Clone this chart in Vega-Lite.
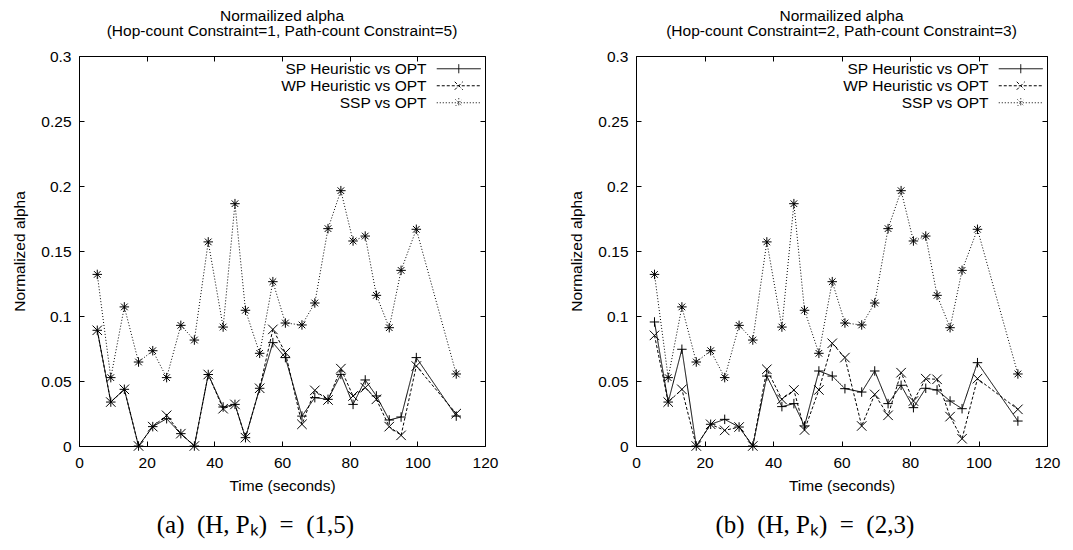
{
"$schema": "https://vega.github.io/schema/vega-lite/v6.json",
"background": "white",
"padding": {"left": 12, "top": 8, "right": 5, "bottom": 5},
"config": {
  "font": "Liberation Sans",
  "view": {"stroke": "black", "strokeWidth": 1},
  "axis": {"domain": false, "grid": false, "tickColor": "black", "tickWidth": 1, "tickSize": -5, "labelFont": "Liberation Sans", "labelFontSize": 15.5, "labelColor": "black", "labelFlush": false, "labelOverlap": false, "titleFont": "Liberation Sans", "titleFontSize": 15.5, "titleFontWeight": "normal", "titleColor": "black"},
  "title": {"font": "Liberation Sans", "fontSize": 15.5, "fontWeight": "normal", "color": "black", "lineHeight": 15, "offset": 10, "anchor": "middle"},
  "legend": {
    "orient": "none", "legendY": 5, "padding": 0, "title": null,
    "labelFont": "Liberation Sans", "labelFontSize": 15.5, "labelColor": "black", "labelAlign": "right", "labelOffset": -40, "labelLimit": 0,
    "symbolSize": 100, "symbolStrokeWidth": 1, "symbolStrokeColor": "black", "rowPadding": 0
  }
},
"datasets": {
  "a": [
    {"t":5.4,"v":0.089,"s":"SP Heuristic vs OPT"},{"t":9.4,"v":0.0338,"s":"SP Heuristic vs OPT"},{"t":13.4,"v":0.0436,"s":"SP Heuristic vs OPT"},{"t":17.6,"v":0,"s":"SP Heuristic vs OPT"},{"t":21.8,"v":0.0149,"s":"SP Heuristic vs OPT"},{"t":25.9,"v":0.021,"s":"SP Heuristic vs OPT"},{"t":30.1,"v":0.0095,"s":"SP Heuristic vs OPT"},{"t":34.1,"v":0,"s":"SP Heuristic vs OPT"},{"t":38.2,"v":0.055,"s":"SP Heuristic vs OPT"},{"t":42.6,"v":0.030,"s":"SP Heuristic vs OPT"},{"t":46.1,"v":0.032,"s":"SP Heuristic vs OPT"},{"t":49.2,"v":0.0064,"s":"SP Heuristic vs OPT"},{"t":53.4,"v":0.0444,"s":"SP Heuristic vs OPT"},{"t":57.3,"v":0.0795,"s":"SP Heuristic vs OPT"},{"t":61.0,"v":0.068,"s":"SP Heuristic vs OPT"},{"t":65.9,"v":0.023,"s":"SP Heuristic vs OPT"},{"t":69.7,"v":0.0372,"s":"SP Heuristic vs OPT"},{"t":73.6,"v":0.0359,"s":"SP Heuristic vs OPT"},{"t":77.4,"v":0.0551,"s":"SP Heuristic vs OPT"},{"t":81.0,"v":0.032,"s":"SP Heuristic vs OPT"},{"t":84.6,"v":0.0508,"s":"SP Heuristic vs OPT"},{"t":87.9,"v":0.0385,"s":"SP Heuristic vs OPT"},{"t":91.7,"v":0.020,"s":"SP Heuristic vs OPT"},{"t":95.2,"v":0.0223,"s":"SP Heuristic vs OPT"},{"t":99.7,"v":0.068,"s":"SP Heuristic vs OPT"},{"t":111.5,"v":0.023,"s":"SP Heuristic vs OPT"},
    {"t":5.4,"v":0.089,"s":"WP Heuristic vs OPT"},{"t":9.4,"v":0.0338,"s":"WP Heuristic vs OPT"},{"t":13.4,"v":0.0436,"s":"WP Heuristic vs OPT"},{"t":17.6,"v":0,"s":"WP Heuristic vs OPT"},{"t":21.8,"v":0.0149,"s":"WP Heuristic vs OPT"},{"t":25.9,"v":0.0236,"s":"WP Heuristic vs OPT"},{"t":30.1,"v":0.0095,"s":"WP Heuristic vs OPT"},{"t":34.1,"v":0,"s":"WP Heuristic vs OPT"},{"t":38.2,"v":0.055,"s":"WP Heuristic vs OPT"},{"t":42.6,"v":0.0287,"s":"WP Heuristic vs OPT"},{"t":46.1,"v":0.032,"s":"WP Heuristic vs OPT"},{"t":49.2,"v":0.0064,"s":"WP Heuristic vs OPT"},{"t":53.4,"v":0.0444,"s":"WP Heuristic vs OPT"},{"t":57.3,"v":0.0897,"s":"WP Heuristic vs OPT"},{"t":61.0,"v":0.0718,"s":"WP Heuristic vs OPT"},{"t":65.9,"v":0.0167,"s":"WP Heuristic vs OPT"},{"t":69.7,"v":0.0428,"s":"WP Heuristic vs OPT"},{"t":73.6,"v":0.0354,"s":"WP Heuristic vs OPT"},{"t":77.4,"v":0.0595,"s":"WP Heuristic vs OPT"},{"t":81.0,"v":0.0385,"s":"WP Heuristic vs OPT"},{"t":84.6,"v":0.0449,"s":"WP Heuristic vs OPT"},{"t":87.9,"v":0.0359,"s":"WP Heuristic vs OPT"},{"t":91.7,"v":0.0149,"s":"WP Heuristic vs OPT"},{"t":95.2,"v":0.0082,"s":"WP Heuristic vs OPT"},{"t":99.7,"v":0.0615,"s":"WP Heuristic vs OPT"},{"t":111.5,"v":0.0249,"s":"WP Heuristic vs OPT"},
    {"t":5.4,"v":0.132,"s":"SSP vs OPT"},{"t":9.4,"v":0.0526,"s":"SSP vs OPT"},{"t":13.4,"v":0.107,"s":"SSP vs OPT"},{"t":17.6,"v":0.0646,"s":"SSP vs OPT"},{"t":21.8,"v":0.0733,"s":"SSP vs OPT"},{"t":25.9,"v":0.0526,"s":"SSP vs OPT"},{"t":30.1,"v":0.0928,"s":"SSP vs OPT"},{"t":34.1,"v":0.0815,"s":"SSP vs OPT"},{"t":38.2,"v":0.157,"s":"SSP vs OPT"},{"t":42.6,"v":0.0915,"s":"SSP vs OPT"},{"t":46.1,"v":0.1864,"s":"SSP vs OPT"},{"t":49.2,"v":0.1044,"s":"SSP vs OPT"},{"t":53.4,"v":0.0713,"s":"SSP vs OPT"},{"t":57.3,"v":0.1264,"s":"SSP vs OPT"},{"t":61.0,"v":0.0946,"s":"SSP vs OPT"},{"t":65.9,"v":0.0931,"s":"SSP vs OPT"},{"t":69.7,"v":0.110,"s":"SSP vs OPT"},{"t":73.6,"v":0.1672,"s":"SSP vs OPT"},{"t":77.4,"v":0.1964,"s":"SSP vs OPT"},{"t":81.0,"v":0.1577,"s":"SSP vs OPT"},{"t":84.6,"v":0.1615,"s":"SSP vs OPT"},{"t":87.9,"v":0.1159,"s":"SSP vs OPT"},{"t":91.7,"v":0.091,"s":"SSP vs OPT"},{"t":95.2,"v":0.1351,"s":"SSP vs OPT"},{"t":99.7,"v":0.1667,"s":"SSP vs OPT"},{"t":111.5,"v":0.0554,"s":"SSP vs OPT"}
  ],
  "b": [
    {"t":5.4,"v":0.0954,"s":"SP Heuristic vs OPT"},{"t":9.4,"v":0.0338,"s":"SP Heuristic vs OPT"},{"t":13.4,"v":0.0744,"s":"SP Heuristic vs OPT"},{"t":17.6,"v":0,"s":"SP Heuristic vs OPT"},{"t":21.8,"v":0.0167,"s":"SP Heuristic vs OPT"},{"t":25.9,"v":0.0205,"s":"SP Heuristic vs OPT"},{"t":30.1,"v":0.0146,"s":"SP Heuristic vs OPT"},{"t":34.1,"v":0,"s":"SP Heuristic vs OPT"},{"t":38.2,"v":0.0538,"s":"SP Heuristic vs OPT"},{"t":42.6,"v":0.0303,"s":"SP Heuristic vs OPT"},{"t":46.1,"v":0.0326,"s":"SP Heuristic vs OPT"},{"t":49.2,"v":0.0154,"s":"SP Heuristic vs OPT"},{"t":53.4,"v":0.0577,"s":"SP Heuristic vs OPT"},{"t":57.3,"v":0.0538,"s":"SP Heuristic vs OPT"},{"t":61.0,"v":0.0441,"s":"SP Heuristic vs OPT"},{"t":65.9,"v":0.0415,"s":"SP Heuristic vs OPT"},{"t":69.7,"v":0.0577,"s":"SP Heuristic vs OPT"},{"t":73.6,"v":0.0326,"s":"SP Heuristic vs OPT"},{"t":77.4,"v":0.0467,"s":"SP Heuristic vs OPT"},{"t":81.0,"v":0.0295,"s":"SP Heuristic vs OPT"},{"t":84.6,"v":0.0444,"s":"SP Heuristic vs OPT"},{"t":87.9,"v":0.0431,"s":"SP Heuristic vs OPT"},{"t":91.7,"v":0.0346,"s":"SP Heuristic vs OPT"},{"t":95.2,"v":0.0287,"s":"SP Heuristic vs OPT"},{"t":99.7,"v":0.0641,"s":"SP Heuristic vs OPT"},{"t":111.5,"v":0.0192,"s":"SP Heuristic vs OPT"},
    {"t":5.4,"v":0.0851,"s":"WP Heuristic vs OPT"},{"t":9.4,"v":0.0338,"s":"WP Heuristic vs OPT"},{"t":13.4,"v":0.0436,"s":"WP Heuristic vs OPT"},{"t":17.6,"v":0,"s":"WP Heuristic vs OPT"},{"t":21.8,"v":0.0167,"s":"WP Heuristic vs OPT"},{"t":25.9,"v":0.012,"s":"WP Heuristic vs OPT"},{"t":30.1,"v":0.0146,"s":"WP Heuristic vs OPT"},{"t":34.1,"v":0,"s":"WP Heuristic vs OPT"},{"t":38.2,"v":0.059,"s":"WP Heuristic vs OPT"},{"t":42.6,"v":0.0359,"s":"WP Heuristic vs OPT"},{"t":46.1,"v":0.0431,"s":"WP Heuristic vs OPT"},{"t":49.2,"v":0.0123,"s":"WP Heuristic vs OPT"},{"t":53.4,"v":0.0431,"s":"WP Heuristic vs OPT"},{"t":57.3,"v":0.079,"s":"WP Heuristic vs OPT"},{"t":61.0,"v":0.068,"s":"WP Heuristic vs OPT"},{"t":65.9,"v":0.0154,"s":"WP Heuristic vs OPT"},{"t":69.7,"v":0.0397,"s":"WP Heuristic vs OPT"},{"t":73.6,"v":0.0236,"s":"WP Heuristic vs OPT"},{"t":77.4,"v":0.0564,"s":"WP Heuristic vs OPT"},{"t":81.0,"v":0.0346,"s":"WP Heuristic vs OPT"},{"t":84.6,"v":0.0518,"s":"WP Heuristic vs OPT"},{"t":87.9,"v":0.0513,"s":"WP Heuristic vs OPT"},{"t":91.7,"v":0.0226,"s":"WP Heuristic vs OPT"},{"t":95.2,"v":0.0056,"s":"WP Heuristic vs OPT"},{"t":99.7,"v":0.0518,"s":"WP Heuristic vs OPT"},{"t":111.5,"v":0.0282,"s":"WP Heuristic vs OPT"},
    {"t":5.4,"v":0.132,"s":"SSP vs OPT"},{"t":9.4,"v":0.0526,"s":"SSP vs OPT"},{"t":13.4,"v":0.107,"s":"SSP vs OPT"},{"t":17.6,"v":0.0646,"s":"SSP vs OPT"},{"t":21.8,"v":0.0733,"s":"SSP vs OPT"},{"t":25.9,"v":0.0526,"s":"SSP vs OPT"},{"t":30.1,"v":0.0928,"s":"SSP vs OPT"},{"t":34.1,"v":0.0815,"s":"SSP vs OPT"},{"t":38.2,"v":0.157,"s":"SSP vs OPT"},{"t":42.6,"v":0.0915,"s":"SSP vs OPT"},{"t":46.1,"v":0.1864,"s":"SSP vs OPT"},{"t":49.2,"v":0.1044,"s":"SSP vs OPT"},{"t":53.4,"v":0.0713,"s":"SSP vs OPT"},{"t":57.3,"v":0.1264,"s":"SSP vs OPT"},{"t":61.0,"v":0.0946,"s":"SSP vs OPT"},{"t":65.9,"v":0.0931,"s":"SSP vs OPT"},{"t":69.7,"v":0.110,"s":"SSP vs OPT"},{"t":73.6,"v":0.1672,"s":"SSP vs OPT"},{"t":77.4,"v":0.1964,"s":"SSP vs OPT"},{"t":81.0,"v":0.1577,"s":"SSP vs OPT"},{"t":84.6,"v":0.1615,"s":"SSP vs OPT"},{"t":87.9,"v":0.1159,"s":"SSP vs OPT"},{"t":91.7,"v":0.091,"s":"SSP vs OPT"},{"t":95.2,"v":0.1351,"s":"SSP vs OPT"},{"t":99.7,"v":0.1667,"s":"SSP vs OPT"},{"t":111.5,"v":0.0554,"s":"SSP vs OPT"}
  ]
},
"spacing": 70,
"resolve": {"scale": {"strokeDash": "independent"}, "legend": {"strokeDash": "independent"}},
"hconcat": [
  {
    "title": {"text": "(a)\u2002(H, Pₖ)\u2002=\u2002(1,5)", "orient": "bottom", "font": "Liberation Serif", "fontSize": 25, "offset": 18, "frame": "bounds"},
    "resolve": {"scale": {"strokeDash": "independent"}, "legend": {"strokeDash": "independent"}},
    "vconcat": [{
      "title": {"text": ["Normailized alpha", "(Hop-count Constraint=1, Path-count Constraint=5)"], "frame": "group"},
      "width": 406, "height": 390,
      "data": {"name": "a"},
      "layer": [
        {"mark": {"type": "line", "strokeWidth": 1, "color": "black"},
         "encoding": {
           "x": {"field": "t", "type": "quantitative", "scale": {"domain": [0, 120], "nice": false}, "axis": {"orient": "bottom", "values": [0,20,40,60,80,100,120], "format": "d", "title": "Time (seconds)", "labelPadding": 14, "titlePadding": 8}},
           "y": {"field": "v", "type": "quantitative", "scale": {"domain": [0, 0.3], "nice": false}, "axis": {"orient": "left", "values": [0,0.05,0.1,0.15,0.2,0.25,0.3], "format": "~g", "title": "Normalized alpha", "labelPadding": 13, "titlePadding": 13}},
           "strokeDash": {"field": "s", "type": "nominal", "scale": {"domain": ["SP Heuristic vs OPT", "WP Heuristic vs OPT", "SSP vs OPT"], "range": [[1,0],[3,2],[1,2]]},
             "legend": {"legendX": 372, "legendY": 5, "encode": {"symbols": {"update": {"shape": {"signal": "datum.value === 'SP Heuristic vs OPT' ? 'M-4.4,0H4.4M0,-0.9V0.9' : datum.value === 'WP Heuristic vs OPT' ? 'M-4.4,0H4.4M-0.8,-0.8L0.8,0.8M-0.8,0.8L0.8,-0.8' : 'M-4.4,0H4.4M0,-0.9V0.9M-0.65,-0.65L0.65,0.65M-0.65,0.65L0.65,-0.65'"}, "stroke": {"value": "black"}, "fill": {"value": "transparent"}}}}}}
         }},
        {"transform": [{"filter": "datum.s === 'SP Heuristic vs OPT'"}],
         "mark": {"type": "point", "shape": "M-1,0H1M0,-1V1", "size": 90, "strokeWidth": 1, "color": "black", "filled": false, "opacity": 1},
         "encoding": {
           "x": {"field": "t", "type": "quantitative", "axis": {"orient": "top", "values": [0,20,40,60,80,100,120], "labels": false, "title": null}},
           "y": {"field": "v", "type": "quantitative", "axis": {"orient": "right", "values": [0,0.05,0.1,0.15,0.2,0.25,0.3], "labels": false, "title": null}}
         }},
        {"transform": [{"filter": "datum.s === 'WP Heuristic vs OPT'"}],
         "mark": {"type": "point", "shape": "M-1,-1L1,1M-1,1L1,-1", "size": 90, "strokeWidth": 1, "color": "black", "filled": false, "opacity": 1},
         "encoding": {
           "x": {"field": "t", "type": "quantitative", "axis": null},
           "y": {"field": "v", "type": "quantitative", "axis": null}
         }},
        {"transform": [{"filter": "datum.s === 'SSP vs OPT'"}],
         "mark": {"type": "point", "shape": "M-1,0H1M0,-1V1M-0.7,-0.7L0.7,0.7M-0.7,0.7L0.7,-0.7", "size": 90, "strokeWidth": 1, "color": "black", "filled": false, "opacity": 1},
         "encoding": {
           "x": {"field": "t", "type": "quantitative", "axis": null},
           "y": {"field": "v", "type": "quantitative", "axis": null}
         }}
      ],
      "resolve": {"axis": {"x": "independent", "y": "independent"}}
    }]
  },
  {
    "title": {"text": "(b)\u2002(H, Pₖ)\u2002=\u2002(2,3)", "orient": "bottom", "font": "Liberation Serif", "fontSize": 25, "offset": 18, "frame": "bounds"},
    "resolve": {"scale": {"strokeDash": "independent"}, "legend": {"strokeDash": "independent"}},
    "vconcat": [{
      "title": {"text": ["Normailized alpha", "(Hop-count Constraint=2, Path-count Constraint=3)"], "frame": "group"},
      "width": 411, "height": 390,
      "data": {"name": "b"},
      "layer": [
        {"mark": {"type": "line", "strokeWidth": 1, "color": "black"},
         "encoding": {
           "x": {"field": "t", "type": "quantitative", "scale": {"domain": [0, 120], "nice": false}, "axis": {"orient": "bottom", "values": [0,20,40,60,80,100,120], "format": "d", "title": "Time (seconds)", "labelPadding": 14, "titlePadding": 8}},
           "y": {"field": "v", "type": "quantitative", "scale": {"domain": [0, 0.3], "nice": false}, "axis": {"orient": "left", "values": [0,0.05,0.1,0.15,0.2,0.25,0.3], "format": "~g", "title": "Normalized alpha", "labelPadding": 13, "titlePadding": 13}},
           "strokeDash": {"field": "s", "type": "nominal", "scale": {"domain": ["SP Heuristic vs OPT", "WP Heuristic vs OPT", "SSP vs OPT"], "range": [[1,0],[3,2],[1,2]]},
             "legend": {"legendX": 377, "legendY": 5, "encode": {"symbols": {"update": {"shape": {"signal": "datum.value === 'SP Heuristic vs OPT' ? 'M-4.4,0H4.4M0,-0.9V0.9' : datum.value === 'WP Heuristic vs OPT' ? 'M-4.4,0H4.4M-0.8,-0.8L0.8,0.8M-0.8,0.8L0.8,-0.8' : 'M-4.4,0H4.4M0,-0.9V0.9M-0.65,-0.65L0.65,0.65M-0.65,0.65L0.65,-0.65'"}, "stroke": {"value": "black"}, "fill": {"value": "transparent"}}}}}}
         }},
        {"transform": [{"filter": "datum.s === 'SP Heuristic vs OPT'"}],
         "mark": {"type": "point", "shape": "M-1,0H1M0,-1V1", "size": 90, "strokeWidth": 1, "color": "black", "filled": false, "opacity": 1},
         "encoding": {
           "x": {"field": "t", "type": "quantitative", "axis": {"orient": "top", "values": [0,20,40,60,80,100,120], "labels": false, "title": null}},
           "y": {"field": "v", "type": "quantitative", "axis": {"orient": "right", "values": [0,0.05,0.1,0.15,0.2,0.25,0.3], "labels": false, "title": null}}
         }},
        {"transform": [{"filter": "datum.s === 'WP Heuristic vs OPT'"}],
         "mark": {"type": "point", "shape": "M-1,-1L1,1M-1,1L1,-1", "size": 90, "strokeWidth": 1, "color": "black", "filled": false, "opacity": 1},
         "encoding": {
           "x": {"field": "t", "type": "quantitative", "axis": null},
           "y": {"field": "v", "type": "quantitative", "axis": null}
         }},
        {"transform": [{"filter": "datum.s === 'SSP vs OPT'"}],
         "mark": {"type": "point", "shape": "M-1,0H1M0,-1V1M-0.7,-0.7L0.7,0.7M-0.7,0.7L0.7,-0.7", "size": 90, "strokeWidth": 1, "color": "black", "filled": false, "opacity": 1},
         "encoding": {
           "x": {"field": "t", "type": "quantitative", "axis": null},
           "y": {"field": "v", "type": "quantitative", "axis": null}
         }}
      ],
      "resolve": {"axis": {"x": "independent", "y": "independent"}}
    }]
  }
]
}
